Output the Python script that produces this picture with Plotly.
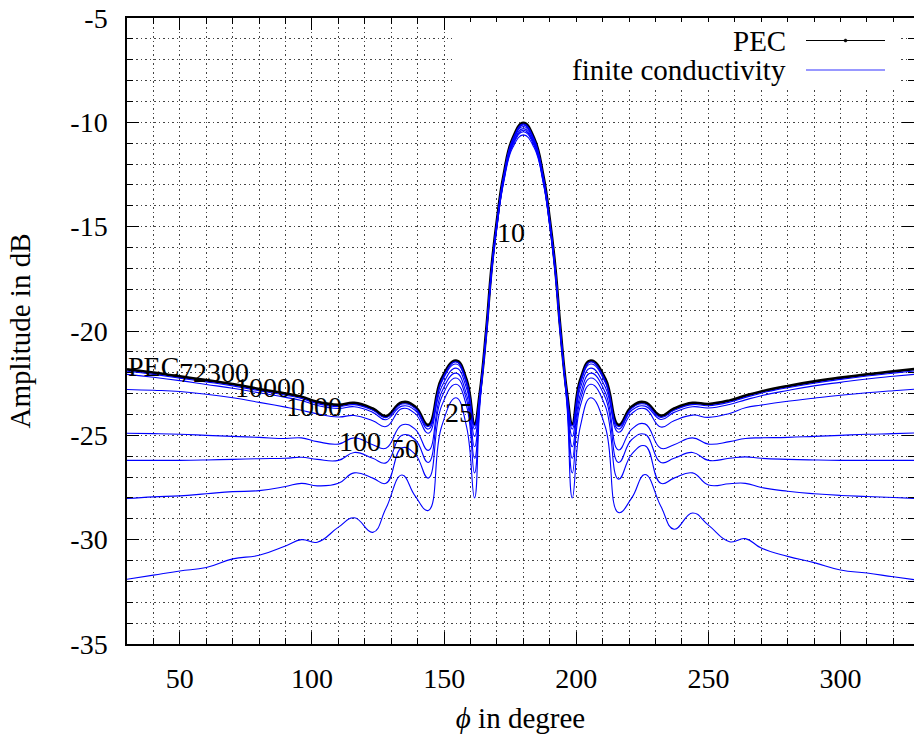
import plotly.graph_objects as go

# ---------------- data ----------------
phi = [30, 40, 50, 60, 70, 80, 90, 96, 102, 110,
       116, 123, 128, 134, 139, 144, 149, 154.5, 158.5, 161.5,
       163.5, 166, 168, 170, 172.5, 176, 180,
       184, 187.5, 190, 192, 194, 196.5,
       198.5, 201.5, 205.5, 211, 216, 221, 226, 232, 237, 244,
       250, 258, 264, 270, 280, 290, 300, 310, 320, 330]

pec = [-21.84, -22.0, -22.18, -22.36, -22.55, -22.78, -23.0, -23.15, -23.4, -23.54,
       -23.45, -23.72, -24.08, -23.42, -23.62, -24.5, -22.3, -21.42, -22.35, -24.45,
       -23.0, -19.9, -16.9, -14.7, -12.55, -10.75, -10.03,
       -10.75, -12.55, -14.7, -16.9, -19.9, -23.0,
       -24.45, -22.35, -21.42, -22.3, -24.5, -23.62, -23.42, -24.06, -23.72, -23.45,
       -23.5, -23.33, -23.1, -22.9, -22.64, -22.42, -22.24, -22.08, -21.94, -21.8]

c72300 = [-21.93, -22.08, -22.26, -22.44, -22.63, -22.86, -23.08, -23.23, -23.48, -23.62,
          -23.53, -23.8, -24.15, -23.5, -23.7, -24.58, -22.37, -21.48, -22.42, -24.55,
          -23.05, -19.93, -16.93, -14.73, -12.58, -10.79, -10.08,
          -10.79, -12.58, -14.73, -16.93, -19.93, -23.05,
          -24.55, -22.42, -21.48, -22.37, -24.58, -23.7, -23.5, -24.14, -23.8, -23.53,
          -23.58, -23.41, -23.18, -22.98, -22.72, -22.5, -22.32, -22.16, -22.02, -21.89]

c10000 = [-22.08, -22.22, -22.38, -22.56, -22.74, -22.96, -23.18, -23.33, -23.57, -23.71,
          -23.63, -23.9, -24.25, -23.6, -23.8, -24.7, -22.47, -21.58, -22.52, -24.7,
          -23.1, -19.97, -16.97, -14.77, -12.62, -10.84, -10.13,
          -10.84, -12.62, -14.77, -16.97, -19.97, -23.1,
          -24.7, -22.52, -21.58, -22.47, -24.7, -23.8, -23.6, -24.24, -23.9, -23.63,
          -23.69, -23.52, -23.3, -23.1, -22.85, -22.63, -22.46, -22.3, -22.17, -22.05]

c1000 = [-22.8, -22.84, -22.9, -23.03, -23.2, -23.42, -23.65, -23.8, -23.97, -24.12,
         -24.05, -24.3, -24.58, -23.72, -23.95, -24.9, -22.7, -21.78, -22.75, -25.05,
         -23.2, -20.02, -17.02, -14.82, -12.68, -10.9, -10.2,
         -10.9, -12.68, -14.82, -17.02, -20.02, -23.2,
         -25.05, -22.75, -21.78, -22.7, -24.85, -23.95, -23.72, -24.6, -24.3, -24.03,
         -24.14, -23.95, -23.68, -23.55, -23.37, -23.22, -23.08, -22.96, -22.86, -22.77]

c100 = [-24.9, -24.92, -24.95, -25.0, -25.05, -25.1, -25.15, -25.12, -25.3, -25.42,
        -25.12, -25.45, -25.62, -24.5, -24.7, -25.72, -22.95, -22.02, -23.05, -25.55,
        -23.3, -20.07, -17.07, -14.88, -12.75, -10.98, -10.3,
        -10.98, -12.75, -14.88, -17.07, -20.07, -23.3,
        -25.55, -23.05, -22.02, -22.95, -25.7, -24.7, -24.45, -25.62, -25.45, -25.12,
        -25.42, -25.3, -25.15, -25.12, -25.1, -25.05, -25.0, -24.95, -24.92, -24.88]

c50 = [-26.2, -26.2, -26.2, -26.18, -26.15, -26.12, -26.1, -26.05, -26.15, -26.2,
       -25.82, -26.1, -26.32, -25.0, -25.2, -26.3, -23.2, -22.25, -23.3, -26.1,
       -23.4, -20.1, -17.1, -14.92, -12.8, -11.03, -10.38,
       -11.03, -12.8, -14.92, -17.1, -20.1, -23.4,
       -26.1, -23.3, -22.25, -23.2, -26.3, -25.2, -24.95, -26.3, -26.1, -25.82,
       -26.2, -26.1, -26.03, -26.1, -26.15, -26.18, -26.2, -26.2, -26.2, -26.2]

c25 = [-28.03, -27.95, -27.9, -27.8, -27.7, -27.65, -27.45, -27.3, -27.42, -27.3,
       -26.8, -27.05, -27.3, -25.6, -25.9, -27.05, -23.6, -22.55, -23.6, -26.8,
       -23.45, -20.15, -17.15, -14.97, -12.85, -11.1, -10.45,
       -11.1, -12.85, -14.97, -17.15, -20.15, -23.45,
       -26.8, -23.6, -22.55, -23.6, -27.1, -25.9, -25.5, -27.3, -27.05, -26.8,
       -27.38, -27.32, -27.3, -27.5, -27.68, -27.8, -27.88, -27.93, -27.98, -28.03]

c10 = [-31.9, -31.7, -31.5, -31.33, -30.92, -30.75, -30.3, -30.0, -30.12, -29.4,
       -28.95, -29.65, -28.5, -26.9, -27.9, -28.6, -24.6, -23.2, -24.6, -28.0,
       -23.6, -20.2, -17.2, -15.0, -12.9, -11.2, -10.6,
       -11.2, -12.9, -15.0, -17.2, -20.2, -23.6,
       -28.0, -24.6, -23.2, -24.6, -28.7, -28.0, -26.88, -28.4, -29.5, -28.72,
       -29.3, -30.1, -29.95, -30.4, -30.8, -31.1, -31.45, -31.6, -31.78, -31.95]

blue_series = [c72300, c10000, c1000, c100, c50, c25, c10]

# curve labels: text, phi, dB
label_text = ["PEC", "72300", "10000", "1000", "100", "50", "25", "10"]
label_phi = [40.0, 63.0, 84.0, 100.7, 118.3, 135.3, 155.7, 175.4]
label_db = [-21.7, -22.0, -22.7, -23.6, -25.3, -25.65, -23.9, -15.27]

x_ticks = [50, 100, 150, 200, 250, 300]
y_ticks = [-35, -30, -25, -20, -15, -10, -5]
y_tick_labels = ["-35", "-30", "-25", "-20", "-15", "-10", "-5"]

# ---------------- figure ----------------
W, H = 914, 734
ML, MR, MT, MB = 127, 0, 18, 90
PW, PH = W - ML - MR, H - MT - MB
FONT = "Liberation Serif, DejaVu Serif, serif"
FS = 28
FS_LEG = 29
FS_TITLE = 29


def px(xp):
    return (xp - ML) / PW


def py(yp):
    return 1 - (yp - MT) / PH


fig = go.Figure()
fig.add_trace(go.Scatter(x=phi, y=pec, mode="lines",
                         line=dict(color="black", width=2.8, shape="spline", smoothing=1.3),
                         showlegend=False, hoverinfo="skip"))
for s in blue_series:
    fig.add_trace(go.Scatter(x=phi, y=s, mode="lines",
                             line=dict(color="#0000ff", width=1.1, shape="spline", smoothing=1.3),
                             showlegend=False, hoverinfo="skip"))

for t, xv, yv in zip(label_text, label_phi, label_db):
    fig.add_annotation(x=xv, y=yv, text=t, showarrow=False,
                       font=dict(family=FONT, size=FS, color="black"),
                       xanchor="center", yanchor="middle")

# manual legend (text left, sample right) with opaque background
shapes = [
    dict(type="rect", xref="paper", yref="paper", x0=px(452), x1=px(898),
         y0=py(90), y1=py(22), fillcolor="white", line=dict(width=0), layer="above"),
    dict(type="line", xref="paper", yref="paper", x0=px(806), x1=px(885),
         y0=py(40.5), y1=py(40.5), line=dict(color="black", width=1.2), layer="above"),
    dict(type="circle", xref="paper", yref="paper", x0=px(844), x1=px(847),
         y0=py(42), y1=py(39), fillcolor="black", line=dict(color="black", width=0.5), layer="above"),
    dict(type="line", xref="paper", yref="paper", x0=px(806), x1=px(885),
         y0=py(70), y1=py(70), line=dict(color="#3333ff", width=1.2), layer="above"),
]
fig.update_layout(shapes=shapes)
fig.add_annotation(xref="paper", yref="paper", x=px(788), y=py(40.5), text="PEC",
                   showarrow=False, xanchor="right", yanchor="middle",
                   font=dict(family=FONT, size=FS_LEG, color="black"))
fig.add_annotation(xref="paper", yref="paper", x=px(788), y=py(70), text="finite conductivity",
                   showarrow=False, xanchor="right", yanchor="middle",
                   font=dict(family=FONT, size=FS_LEG, color="black"))

grid_dash = "1.5px,3px"
fig.update_xaxes(range=[30, 327.8], tickvals=x_ticks, ticktext=[str(v) for v in x_ticks],
                 ticks="inside", ticklen=12, tickwidth=1, tickcolor="black",
                 showline=True, linecolor="black", linewidth=1.5, mirror="ticks",
                 showgrid=True, gridcolor="#444", gridwidth=1, griddash=grid_dash,
                 zeroline=False,
                 minor=dict(dtick=10, tick0=0, ticks="inside", ticklen=6, tickcolor="black",
                            showgrid=True, gridcolor="#444", gridwidth=1, griddash=grid_dash),
                 tickfont=dict(family=FONT, size=FS, color="black"),
                 ticklabelstandoff=9,
                 title=dict(text="<i>ϕ</i> in degree", standoff=17,
                            font=dict(family=FONT, size=FS_TITLE, color="black")),
                 automargin=False)
fig.update_yaxes(range=[-35, -5], tickvals=y_ticks, ticktext=y_tick_labels,
                 ticks="inside", ticklen=12, tickwidth=1, tickcolor="black",
                 showline=True, linecolor="black", linewidth=1.5, mirror="ticks",
                 showgrid=True, gridcolor="#444", gridwidth=1, griddash=grid_dash,
                 zeroline=False,
                 minor=dict(dtick=1, tick0=0, ticks="inside", ticklen=6, tickcolor="black",
                            showgrid=True, gridcolor="#444", gridwidth=1, griddash=grid_dash),
                 tickfont=dict(family=FONT, size=FS, color="black"),
                 ticklabelstandoff=12,
                 title=dict(text="Amplitude in dB", standoff=31,
                            font=dict(family=FONT, size=FS_TITLE, color="black")),
                 automargin=False)

fig.update_layout(width=W, height=H, margin=dict(l=ML, r=MR, t=MT, b=MB),
                  paper_bgcolor="white", plot_bgcolor="white",
                  font=dict(family=FONT, color="black"))

fig.write_html("out.html")
